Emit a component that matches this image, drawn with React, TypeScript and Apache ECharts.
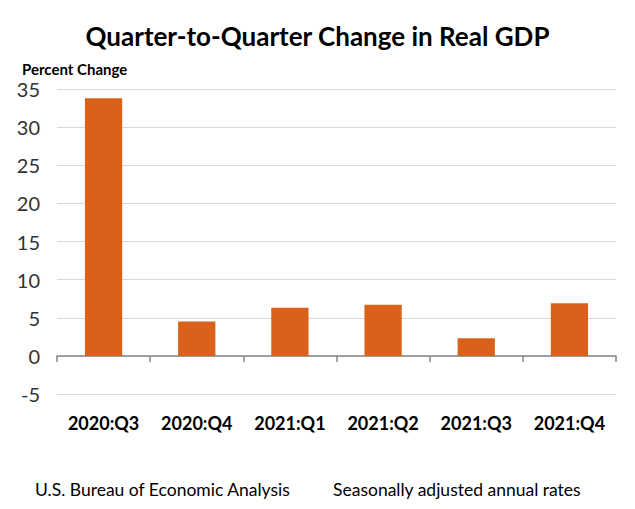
import React, { useEffect, useRef } from "react";
import * as echarts from "echarts";

const categories = ["2020:Q3", "2020:Q4", "2021:Q1", "2021:Q2", "2021:Q3", "2021:Q4"];
const values = [33.8, 4.5, 6.3, 6.7, 2.3, 6.9];
const titleText = "Quarter-to-Quarter Change in Real GDP";
const yAxisName = "Percent Change";
const footLeft = "U.S. Bureau of Economic Analysis";
const footRight = "Seasonally adjusted annual rates";

const FONT = "Lato, 'Open Sans', sans-serif";

export default function App() {
  const ref = useRef<HTMLDivElement>(null);
  useEffect(() => {
    if (!ref.current) return;
    const chart = echarts.init(ref.current, null, { renderer: "svg" });
    chart.setOption({
      animation: false,
      backgroundColor: "#ffffff",
      title: {
        text: titleText,
        left: "center",
        top: 18,
        textStyle: { fontFamily: FONT, fontSize: 26, fontWeight: "bold", color: "#000" },
      },
      graphic: [
        {
          type: "text",
          left: 22,
          top: 61,
          style: { text: yAxisName, font: `bold 15px ${FONT}`, fill: "#000" },
        },
        {
          type: "text",
          left: 35,
          top: 480,
          style: { text: footLeft, font: `17.5px ${FONT}`, fill: "#000" },
        },
        {
          type: "text",
          left: 333,
          top: 480,
          style: { text: footRight, font: `17.5px ${FONT}`, fill: "#000" },
        },
      ],
      grid: { left: 57, right: 19, top: 89, bottom: 115, containLabel: false },
      xAxis: [
        {
          type: "category",
          data: categories,
          axisLine: { onZero: true, lineStyle: { color: "#868686", width: 1.5 } },
          axisTick: { show: true, length: 6, lineStyle: { color: "#868686", width: 1.5 } },
          axisLabel: { show: false },
          splitLine: { show: false },
        },
        {
          type: "category",
          data: categories,
          position: "bottom",
          axisLine: { show: false, onZero: false },
          axisTick: { show: false },
          axisLabel: {
            margin: 20,
            fontFamily: FONT,
            fontSize: 18,
            fontWeight: "bold",
            color: "#000",
          },
        },
      ],
      yAxis: {
        type: "value",
        min: -5,
        max: 35,
        interval: 5,
        axisLine: { show: false },
        axisTick: { show: false },
        axisLabel: { fontFamily: FONT, fontSize: 20, color: "#333", margin: 17 },
        splitLine: { lineStyle: { color: "#d9d9d9", width: 1 } },
      },
      series: [
        {
          type: "bar",
          data: values,
          xAxisIndex: 0,
          barWidth: "40%",
          itemStyle: { color: "#DA6119" },
        },
      ],
    });
    return () => chart.dispose();
  }, []);
  return (
    <div
      ref={ref}
      style={{ position: "absolute", left: 0, top: 0, width: 635, height: 509 }}
    />
  );
}
